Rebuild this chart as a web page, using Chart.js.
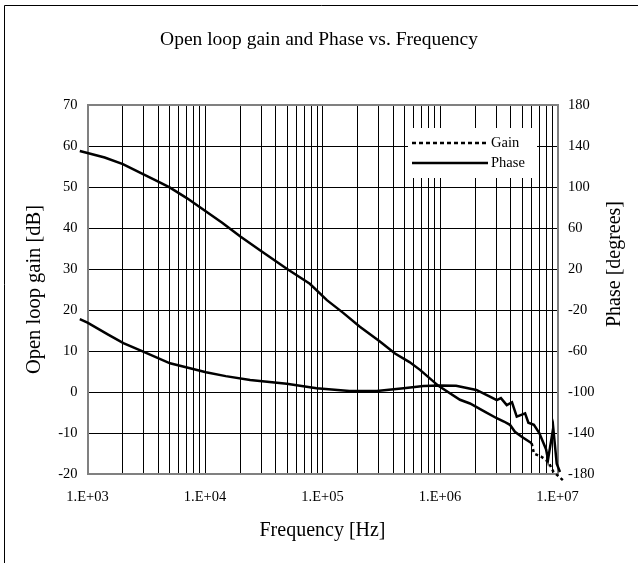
<!DOCTYPE html>
<html>
<head>
<meta charset="utf-8">
<title>Open loop gain and Phase vs. Frequency</title>
<script src="https://cdn.jsdelivr.net/npm/chart.js@4.4.0/dist/chart.umd.min.js"></script>
<style>
  html, body { margin: 0; padding: 0; background: #fff; }
</style>
</head>
<body>
<canvas id="myChart" width="638" height="563"></canvas>
<script>
const chartTitle = 'Open loop gain and Phase vs. Frequency';
const xTitle = 'Frequency [Hz]';
const yTitle = 'Open loop gain [dB]';
const y2Title = 'Phase [degrees]';
const seriesNames = ['Gain', 'Phase'];

// gain curve
const gainFreq = [860, 1000, 1400, 2000, 3000, 4000, 5000, 7000, 9000, 14000, 20000, 30000,
  50000, 78000, 109000, 150000, 208000, 308000, 414000, 550000, 676000, 970000, 1480000,
  1800000, 2400000, 3040000, 3500000, 3940000, 4340000, 4960000, 6030000, 6300000, 7300000,
  8350000, 9200000, 11100000];
const gainDb = [58.8, 58.3, 57.2, 55.6, 53.1, 51.3, 49.9, 47.3, 45.1, 41.3, 37.9, 34.4,
  30.0, 26.4, 22.4, 19.3, 15.9, 12.3, 9.4, 7.3, 5.4, 1.5, -1.9,
  -2.8, -4.8, -6.4, -7.2, -8.0, -9.7, -10.9, -12.5, -15.0, -15.8,
  -17.0, -19.4, -21.5];

// phase curve
const phaseFreq = [860, 1000, 1500, 2020, 2980, 5040, 7460, 10200, 15000, 24200, 49600, 89000,
  170000, 290000, 490000, 723000, 1000000, 1370000, 2040000, 2660000, 3040000, 3300000,
  3700000, 4100000, 4500000, 5300000, 5650000, 6300000, 7000000, 8000000, 8300000, 9200000,
  9850000, 10500000];
const phaseDeg = [-29, -32.4, -44, -52.4, -60.7, -72, -76.9, -80.8, -84.5, -88.3, -92, -96.3,
  -99, -99, -96.3, -94.1, -93.6, -94, -98, -104.5, -108, -106,
  -112.8, -110, -124, -120.8, -130, -132, -140, -156, -166, -135,
  -170, -178];

const decades = [1e3, 1e4, 1e5, 1e6, 1e7];
const xTickLabels = ['1.E+03', '1.E+04', '1.E+05', '1.E+06', '1.E+07'];

// minor grid at 1..9 of every decade
const gridFreq = [];
for (let d = 0; d < decades.length - 1; d++) {
  for (let m = 1; m < 10; m++) gridFreq.push(m * decades[d]);
}
gridFreq.push(decades[decades.length - 1]);

const serif = '"Liberation Serif", "Times New Roman", serif';
const grey = '#808080';

const decor = {
  id: 'decor',
  beforeDraw(chart) {
    const c = chart.ctx;
    c.save();
    c.strokeStyle = '#000';
    c.lineWidth = 1;
    c.beginPath();
    c.moveTo(4.5, 563);
    c.lineTo(4.5, 5.5);
    c.lineTo(638, 5.5);
    c.stroke();
    c.restore();
  },
  afterDraw(chart) {
    const c = chart.ctx;
    c.save();
    c.fillStyle = '#000';
    c.textBaseline = 'middle';
    c.textAlign = 'center';
    c.font = '19.5px ' + serif;
    c.fillText(chartTitle, 319, 40);

    c.save();
    c.translate(615, 264);
    c.rotate(-Math.PI / 2);
    c.font = '20px ' + serif;
    c.fillText(y2Title, 0, 0);
    c.restore();

    // legend
    c.fillStyle = '#fff';
    c.fillRect(408, 128, 129, 50);
    c.strokeStyle = '#000';
    c.lineWidth = 2.5;
    c.setLineDash([4, 3]);
    c.beginPath(); c.moveTo(412, 143); c.lineTo(488, 143); c.stroke();
    c.setLineDash([]);
    c.beginPath(); c.moveTo(412, 163); c.lineTo(488, 163); c.stroke();
    c.fillStyle = '#000';
    c.textAlign = 'left';
    c.font = '14.5px ' + serif;
    c.fillText(seriesNames[0], 491, 143);
    c.fillText(seriesNames[1], 491, 163);
    c.restore();
  }
};

const ctx = document.getElementById('myChart');
const myChart = new Chart(ctx, {
  type: 'line',
  data: {
    datasets: [{
      label: seriesNames[0],
      data: gainFreq.map((f, i) => ({x: f, y: gainDb[i]})),
      yAxisID: 'y',
      borderColor: '#000',
      borderWidth: 2.5,
      borderDash: [4, 3],
      segment: {
        borderDash: s => s.p0.parsed.x >= 6000000 ? [3, 3] : []
      },
      pointRadius: 0,
      clip: false
    }, {
      label: seriesNames[1],
      data: phaseFreq.map((f, i) => ({x: f, y: phaseDeg[i]})),
      yAxisID: 'y2',
      borderColor: '#000',
      borderWidth: 2.5,
      pointRadius: 0,
      clip: false
    }]
  },
  options: {
    responsive: false,
    animation: false,
    layout: { padding: { top: 105, left: 0, right: 0, bottom: 0 } },
    plugins: { legend: { display: false }, title: { display: false }, tooltip: { enabled: false } },
    scales: {
      x: {
        type: 'logarithmic',
        min: 1000,
        max: 10000000,
        afterBuildTicks: s => { s.ticks = gridFreq.map(v => ({value: v})); },
        afterFit: s => { s.height = 89; },
        ticks: {
          autoSkip: false,
          maxRotation: 0,
          padding: 14,
          color: '#000',
          font: { family: serif, size: 14.5 },
          callback: v => {
            const k = decades.indexOf(v);
            return k >= 0 ? xTickLabels[k] : '';
          }
        },
        grid: { color: '#000', lineWidth: 1, drawTicks: false },
        border: { color: grey, width: 2 },
        title: {
          display: true, text: xTitle, color: '#000',
          font: { family: serif, size: 20 },
          padding: { top: 0, bottom: 20 }
        }
      },
      y: {
        position: 'left',
        min: -20,
        max: 70,
        afterFit: s => { s.width = 87.5; },
        ticks: { stepSize: 10, padding: 10, color: '#000', font: { family: serif, size: 14.5 } },
        grid: {
          color: t => t.tick && t.tick.value === 70 ? grey : '#000',
          lineWidth: t => t.tick && t.tick.value === 70 ? 2 : 1,
          drawTicks: false
        },
        border: { color: grey, width: 2 },
        title: {
          display: true, text: yTitle, color: '#000',
          font: { family: serif, size: 20.5 },
          padding: { top: 22, bottom: 0 }
        }
      },
      y2: {
        position: 'right',
        min: -180,
        max: 180,
        afterFit: s => { s.width = 80.5; },
        ticks: { stepSize: 40, padding: 10.5, color: '#000', font: { family: serif, size: 14.5 } },
        grid: { display: false, drawTicks: false },
        border: { color: grey, width: 2 }
      }
    }
  },
  plugins: [decor]
});
</script>
</body>
</html>
